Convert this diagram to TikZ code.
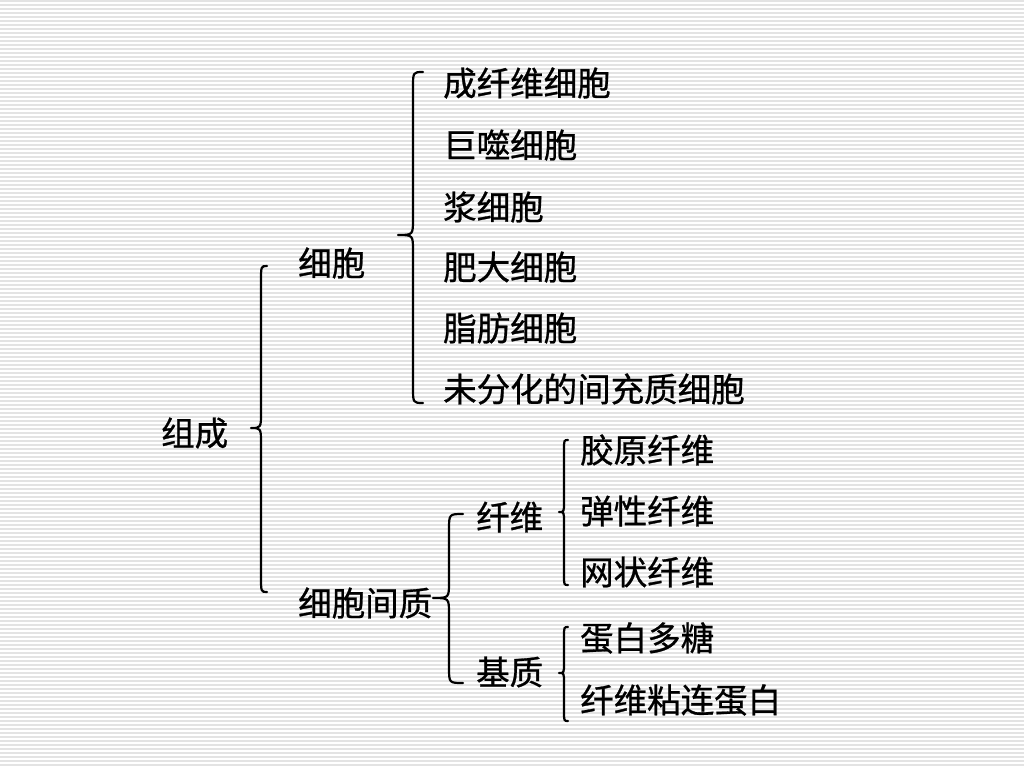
\documentclass[tikz,border=0pt]{standalone}
\usepackage{fontspec}
\newfontfamily\cjk[FakeBold=0.8]{Noto Sans CJK SC}
\begin{document}
\begin{tikzpicture}[x=1pt,y=-1pt,
  lbl/.style={anchor=west,inner sep=0pt,font=\cjk\fontsize{33.5}{34}\selectfont,text=black},
  stripe/.style={line width=1.6pt,draw=black!11},
  br/.style={line width=2.2pt,draw=black,line cap=round,line join=round}]
\useasboundingbox (0,0) rectangle (1024,768);
\fill[white] (0,0) rectangle (1024,768);
\foreach \yy in {1,5,...,768} \draw[stripe] (0,\yy) -- (1024,\yy);
% brace paths: (xe,ytop) -> line xl -> tip xt
\newcommand\mybrace[7]{% xe xl xt ytop ytip ybot r
  \draw[br] (#1,#4) .. controls (#2,#4) .. (#2,#4+#7) -- (#2,#5-#7)
    .. controls (#2,#5) .. (#3,#5) .. controls (#2,#5) .. (#2,#5+#7)
    -- (#2,#6-#7) .. controls (#2,#6) .. (#1,#6);}
\node[lbl] (zc) at (161,433) {组成};
\node[lbl] (xb) at (298,263) {细胞};
\node[lbl] (xbjz) at (298,603) {细胞间质};
\node[lbl] (c1) at (443,83) {成纤维细胞};
\node[lbl] (c2) at (443,145) {巨噬细胞};
\node[lbl] (c3) at (443,207) {浆细胞};
\node[lbl] (c4) at (443,267) {肥大细胞};
\node[lbl] (c5) at (443,328) {脂肪细胞};
\node[lbl] (c6) at (443,389) {未分化的间充质细胞};
\node[lbl] (xw) at (476,517) {纤维};
\node[lbl] (jz) at (476,672) {基质};
\node[lbl] (f1) at (580,450) {胶原纤维};
\node[lbl] (f2) at (580,511) {弹性纤维};
\node[lbl] (f3) at (580,572) {网状纤维};
\node[lbl] (g1) at (580,638) {蛋白多糖};
\node[lbl] (g2) at (580,700) {纤维粘连蛋白};
\mybrace{267}{261}{251}{266}{428}{592}{16}
\mybrace{423}{413}{398}{72}{235}{403}{16}
\mybrace{463}{449}{433}{514}{598}{683}{16}
\mybrace{568}{564}{559}{440}{512}{585}{10}
\mybrace{568}{564}{559}{627}{673}{721}{10}
\end{tikzpicture}
\end{document}
